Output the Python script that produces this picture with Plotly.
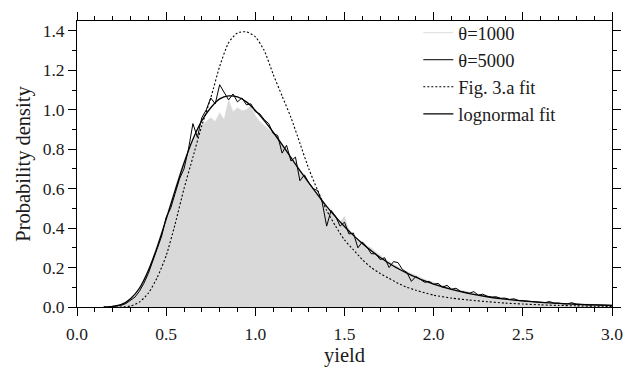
import plotly.graph_objects as go

# ---------------- data ----------------
# histogram-like series (theta=1000 filled, theta=5000 jagged line), bin step 0.025
hist_x = [round(0.175 + 0.025 * i, 3) for i in range(114)]

theta1000 = [
    0.0, 0.004, 0.008, 0.015, 0.027, 0.045, 0.07, 0.10, 0.14, 0.19,
    0.25, 0.315, 0.385, 0.455, 0.53, 0.605, 0.675, 0.735, 0.79, 0.84,
    0.88, 0.92, 0.94, 0.96, 0.94, 0.985, 0.95, 1.05, 0.99, 1.01,
    0.995, 1.00, 1.02, 0.97, 0.94, 0.92, 0.90, 0.885, 0.86, 0.83,
    0.80, 0.76, 0.73, 0.70, 0.665, 0.63, 0.60, 0.57, 0.54, 0.51,
    0.48, 0.46, 0.43, 0.46, 0.39, 0.36, 0.345, 0.33, 0.31, 0.30,
    0.28, 0.26, 0.245, 0.23, 0.215, 0.205, 0.19, 0.18, 0.17, 0.16,
    0.15, 0.14, 0.13, 0.125, 0.115, 0.11, 0.105, 0.095, 0.09, 0.085,
    0.08, 0.075, 0.07, 0.065, 0.06, 0.057, 0.052, 0.05, 0.046, 0.043,
    0.04, 0.037, 0.035, 0.033, 0.031, 0.029, 0.027, 0.026, 0.024, 0.023,
    0.021, 0.02, 0.019, 0.018, 0.017, 0.016, 0.015, 0.014, 0.013, 0.012,
    0.012, 0.011, 0.01, 0.01,
]

theta5000 = [
    0.0, 0.002, 0.004, 0.009, 0.018, 0.032, 0.05, 0.08, 0.12, 0.17,
    0.235, 0.30, 0.36, 0.455, 0.50, 0.575, 0.65, 0.70, 0.80, 0.93,
    0.86, 0.96, 1.0, 1.06, 1.03, 1.127, 1.09, 1.05, 1.08, 1.04,
    1.06, 1.025, 1.03, 0.99, 0.98, 0.95, 0.93, 0.88, 0.87, 0.78,
    0.82, 0.74, 0.76, 0.64, 0.67, 0.63, 0.60, 0.59, 0.53, 0.41,
    0.49, 0.46, 0.41, 0.43, 0.37, 0.375, 0.30, 0.33, 0.305, 0.27,
    0.27, 0.24, 0.25, 0.20, 0.23, 0.225, 0.19, 0.175, 0.13, 0.155,
    0.14, 0.125, 0.13, 0.115, 0.12, 0.10, 0.11, 0.09, 0.095, 0.08,
    0.075, 0.07, 0.078, 0.06, 0.065, 0.055, 0.05, 0.052, 0.044, 0.045,
    0.038, 0.042, 0.033, 0.031, 0.03, 0.027, 0.026, 0.024, 0.022, 0.028,
    0.019, 0.02, 0.016, 0.016, 0.022, 0.014, 0.012, 0.013, 0.01, 0.011,
    0.01, 0.009, 0.008, 0.008,
]

# smooth fit curves
fit_x = [0.15, 0.2, 0.25, 0.3, 0.35, 0.4, 0.45, 0.5, 0.55, 0.6,
         0.65, 0.7, 0.75, 0.8, 0.85, 0.9, 0.95, 1.0, 1.05, 1.1,
         1.15, 1.2, 1.25, 1.3, 1.35, 1.4, 1.45, 1.5, 1.55, 1.6,
         1.65, 1.7, 1.75, 1.8, 1.85, 1.9, 1.95, 2.0, 2.1, 2.2,
         2.3, 2.4, 2.5, 2.6, 2.7, 2.8, 2.9, 3.0]

lognormal_fit = [0.0, 0.003, 0.013, 0.042, 0.095, 0.185, 0.305, 0.445, 0.59, 0.73,
                 0.85, 0.945, 1.01, 1.055, 1.07, 1.065, 1.04, 0.997, 0.945, 0.886,
                 0.823, 0.757, 0.692, 0.629, 0.568, 0.51, 0.457, 0.408, 0.363, 0.322,
                 0.285, 0.251, 0.222, 0.195, 0.172, 0.151, 0.132, 0.116, 0.089, 0.068,
                 0.052, 0.040, 0.031, 0.0235, 0.018, 0.014, 0.011, 0.008]

fig3a_fit = [0.0, 0.0, 0.0, 0.005, 0.025, 0.07, 0.15, 0.26, 0.42, 0.60,
             0.76, 0.92, 1.06, 1.22, 1.34, 1.39, 1.395, 1.37, 1.30, 1.18,
             1.07, 0.96, 0.83, 0.70, 0.59, 0.49, 0.41, 0.34, 0.29, 0.24,
             0.20, 0.17, 0.145, 0.12, 0.10, 0.085, 0.072, 0.06, 0.045, 0.035,
             0.027, 0.02, 0.015, 0.011, 0.008, 0.006, 0.004, 0.003]

legend_labels = ["θ=1000", "θ=5000", "Fig. 3.a fit", "lognormal fit"]

FONT = "Liberation Serif, Times New Roman, serif"
TXT = "#1a1a1a"

fig = go.Figure()

# theta=1000: filled light-gray area
fig.add_trace(go.Scatter(
    x=hist_x, y=theta1000, mode="lines", fill="tozeroy",
    fillcolor="#d9d9d9", line=dict(color="#d9d9d9", width=0.5),
    showlegend=False, hoverinfo="skip",
))
# legend entry for theta=1000 (light line only)
fig.add_trace(go.Scatter(
    x=[None], y=[None], mode="lines", name=legend_labels[0],
    line=dict(color="#e3e3e3", width=1.2),
))
fig.add_trace(go.Scatter(
    x=hist_x, y=theta5000, mode="lines", name=legend_labels[1],
    line=dict(color="black", width=1),
))
fig.add_trace(go.Scatter(
    x=fit_x, y=fig3a_fit, mode="lines", name=legend_labels[2],
    line=dict(color="black", width=1.1, dash="2px,2px", shape="spline", smoothing=0.6),
))
fig.add_trace(go.Scatter(
    x=fit_x, y=lognormal_fit, mode="lines", name=legend_labels[3],
    line=dict(color="black", width=1.3, shape="spline", smoothing=0.6),
))

axis_common = dict(
    showline=True, linecolor="black", linewidth=1,
    mirror="ticks", ticks="outside", ticklen=8, tickwidth=1, tickcolor="black",
    showgrid=False, zeroline=False,
    tickfont=dict(family=FONT, size=17.5, color=TXT),
)

fig.update_xaxes(
    range=[0, 3.0], tick0=0, dtick=0.5, tickformat=".1f",
    minor=dict(dtick=0.1, ticks="outside", ticklen=4, tickcolor="black", tickwidth=1),
    ticklabelstandoff=3,
    title=dict(text="yield", font=dict(family=FONT, size=20.5, color=TXT), standoff=2),
    **axis_common,
)
fig.update_yaxes(
    range=[0, 1.45], tick0=0, dtick=0.2, tickformat=".1f",
    minor=dict(dtick=0.1, ticks="outside", ticklen=4, tickcolor="black", tickwidth=1),
    title=dict(text="Probability density", font=dict(family=FONT, size=20.5, color=TXT), standoff=6),
    **axis_common,
)

fig.update_layout(
    width=642, height=372,
    margin=dict(l=77, r=30, t=15, b=55),
    paper_bgcolor="white", plot_bgcolor="white",
    font=dict(family=FONT, color=TXT),
    legend=dict(
        x=0.638, y=1.024, xanchor="left", yanchor="top",
        bgcolor="rgba(0,0,0,0)", borderwidth=0,
        font=dict(family=FONT, size=18.5, color=TXT),
        tracegroupgap=0,
    ),
)

fig.write_html("out.html")
